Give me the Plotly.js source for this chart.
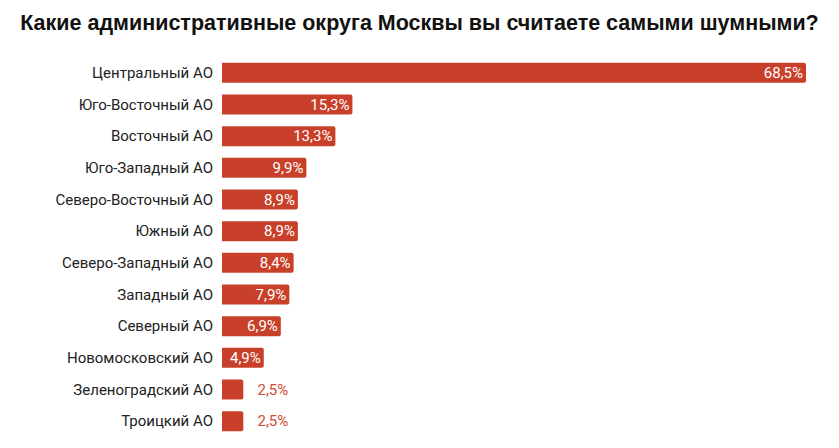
<!DOCTYPE html>
<html>
<head>
<meta charset="utf-8">
<script src="https://cdn.plot.ly/plotly-3.0.1.min.js"></script>
<style>
  html, body { margin: 0; padding: 0; background: #fff; }
  #chart { width: 839px; height: 448px; }
</style>
</head>
<body>
<div id="chart"></div>
<script>
"use strict";
// Survey: which Moscow districts are the noisiest (share of respondents, %)
var districts = [
  'Центральный АО', 'Юго-Восточный АО', 'Восточный АО', 'Юго-Западный АО',
  'Северо-Восточный АО', 'Южный АО', 'Северо-Западный АО', 'Западный АО',
  'Северный АО', 'Новомосковский АО', 'Зеленоградский АО', 'Троицкий АО'
];
var shares = [68.5, 15.3, 13.3, 9.9, 8.9, 8.9, 8.4, 7.9, 6.9, 4.9, 2.5, 2.5];

var barColor = '#C9402A';
var NBSP = '\u00a0';

// small bars get their label outside, pushed a bit away from the bar
var positions = shares.map(function(v){ return v < 4 ? 'outside' : 'inside'; });
var labels = shares.map(function(v){
  var s = v.toFixed(1).replace('.', ',') + '%';
  return v < 4 ? NBSP + NBSP + NBSP + s : s;
});

var trace = {
  type: 'bar',
  orientation: 'h',
  y: districts,
  x: shares,
  text: labels,
  textposition: positions,
  insidetextanchor: 'end',
  textangle: 0,
  cliponaxis: false,
  insidetextfont: { family: 'Roboto, sans-serif', size: 15, color: '#ffffff' },
  outsidetextfont: { family: 'Roboto, sans-serif', size: 15, color: '#D04A33' },
  marker: { color: barColor, cornerradius: 2 },
  hoverinfo: 'none'
};

var layout = {
  width: 839,
  height: 448,
  margin: { l: 222, r: 33, t: 57, b: 11 },
  paper_bgcolor: '#ffffff',
  plot_bgcolor: '#ffffff',
  bargap: 0.37,
  showlegend: false,
  uniformtext: { mode: 'show', minsize: 15 },
  title: {
    text: '<b>Какие административные округа Москвы вы считаете самыми шумными?</b>',
    font: { family: 'Liberation Sans, Arial, sans-serif', size: 21.5, color: '#111111' },
    x: 0.5, xanchor: 'center',
    y: 0.95, yanchor: 'middle', yref: 'container'
  },
  xaxis: {
    range: [0, 68.5],
    visible: false,
    fixedrange: true
  },
  yaxis: {
    autorange: 'reversed',
    showgrid: false,
    zeroline: false,
    showline: false,
    ticks: '',
    ticklabelstandoff: 8,
    tickfont: { family: 'Roboto, sans-serif', size: 15, color: '#222222' },
    fixedrange: true
  }
};

Plotly.newPlot('chart', [trace], layout, { displayModeBar: false, staticPlot: true });
</script>
</body>
</html>
